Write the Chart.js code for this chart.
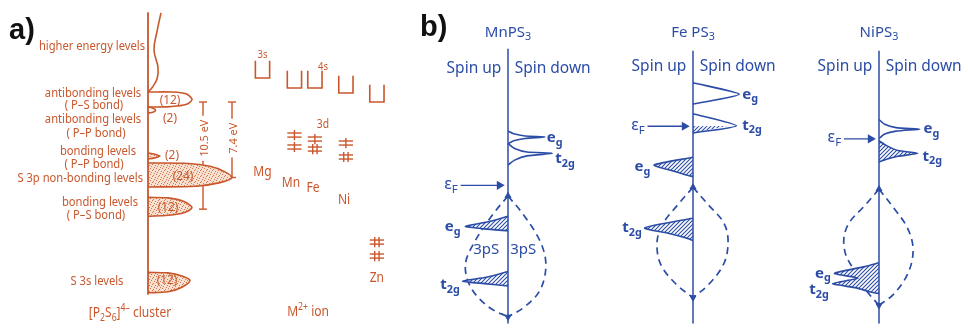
<!DOCTYPE html>
<html>
<head>
<meta charset="utf-8">
<title>[P2S6]4- cluster levels and MPS3 spin-resolved DOS</title>
<script src="https://cdn.jsdelivr.net/npm/chart.js@4.4.1/dist/chart.umd.min.js"></script>
<style>
  html, body { margin: 0; padding: 0; background: #fff; }
  #page { position: relative; width: 968px; height: 329px; overflow: hidden; }
  #page canvas { position: absolute; top: 0; }
</style>
</head>
<body>
<div id="page">
  <canvas id="panelA" width="410" height="329" style="left:0px"></canvas>
  <canvas id="panelMn" width="200" height="329" style="left:408px"></canvas>
  <canvas id="panelFe" width="200" height="329" style="left:593px"></canvas>
  <canvas id="panelNi" width="200" height="329" style="left:779px"></canvas>
</div>
<script>
const ORANGE = '#c9572c';
const BLUE = '#2c4da6';
const FONT = '"Noto Sans", "DejaVu Sans", sans-serif';

// ---- panel a: [P2S6]4- cluster, x = DOS (arb.), y = energy (eV) ----
const clusterAxis = [[0, 8.8], [0, -18.9]];
const higherLevels = [[6.5, 8.73], [4.6, 7.0], [3.0, 5.1], [5.0, 3.4], [4.6, 2.3], [2.2, 1.45], [0, 0.98]];
const antiPS = [[0, 0.98], [12, 0.98], [19, 0.8], [22, 0.25], [19, -0.25], [11, -0.45], [0, -0.49]];
const antiPP = [[0, -0.49], [2.5, -0.6], [3.8, -0.8], [2.5, -1.0], [0, -1.08]];
const bondPP = [[0, -5.0], [3, -5.1], [6, -5.3], [3, -5.5], [0, -5.59]];
const nonBond3p = [[0, -5.98], [20, -6.02], [31, -6.3], [38, -6.8], [42, -7.4], [36, -7.9], [24, -8.25], [0, -8.33]];
const bondPS = [[0, -9.35], [10, -9.4], [18, -9.75], [22, -10.35], [18, -10.85], [10, -11.1], [0, -11.2]];
const s3s = [[0, -16.7], [10, -16.75], [17, -17.05], [21, -17.5], [17, -18.15], [10, -18.6], [0, -18.7]];
const levelCounts = ['(12)', '(2)', '(2)', '(24)', '(12)', '(12)'];
const countPos = [[11, 0.2], [11, -1.57], [12, -5.2], [17.5, -7.3], [10, -10.3], [9.5, -17.45]];
const gapValues = [10.5, 7.4];
const gapX = [27.5, 42];

// M2+ ion levels, x = ion column, y = energy (eV)
const ions = ['Mg', 'Mn', 'Fe', 'Ni', 'Zn'];
const ionX = [0, 1.03, 1.69, 2.69, 3.69];
const sLevel = [2.35, 1.37, 1.37, 0.88, 0.0];
const dUpper = [null, -3.24, -3.63, -4.02, -13.73];
const dLower = [null, -4.41, -4.61, -5.39, -15.1];
const dUpperTicks = [0, 1, 1, 1, 2];
const dLowerTicks = [0, 1, 2, 2, 2];

// ---- panel b: x = DOS (spin up < 0 < spin down), y = energy (arb.) ----
const mnDownEg = [[0, 3.5], [0.6, 3.36], [1.8, 3.25], [3.9, 3.2], [1.8, 3.12], [0.6, 3.0], [0, 2.85]];
const mnDownT2g = [[0, 2.85], [0.7, 2.6], [2.0, 2.42], [4.7, 2.35], [2.0, 2.22], [0.7, 2.0], [0, 1.75]];
const mnUpEg = [[0, -0.9], [-2.2, -1.2], [-4.5, -1.42], [-2.5, -1.55], [0, -1.65]];
const mnUpT2g = [[0, -3.75], [-2.3, -4.05], [-4.8, -4.25], [-2.5, -4.38], [0, -4.5]];
const mnLensL = [[0, 0.15], [-1.6, -0.8], [-3.5, -2.2], [-4.5, -3.4], [-3.9, -4.6], [-2, -5.6], [0, -6.1]];
const mnLensR = [[0, 0.15], [1.6, -0.8], [3.4, -2.2], [4.0, -3.4], [3.4, -4.7], [1.7, -5.6], [0, -6.1]];
const mnFermi = 0.7;

const feDownEg = [[0, 6.0], [4.9, 5.4], [0, 4.9]];
const feDownT2g = [[0, 4.4], [4.6, 3.78], [0, 3.4]];
const feDownT2gOcc = [[0, 3.75], [3.6, 3.76], [0, 3.4]];
const feUpEg = [[0, 2.15], [-4.1, 1.75], [-2.2, 1.45], [-0.8, 1.25], [0, 1.15]];
const feUpT2g = [[0, -1.0], [-5.1, -1.5], [-2.4, -1.8], [-0.9, -2.0], [0, -2.15]];
const feLensL = [[0, 0.6], [-1.6, -0.3], [-3.2, -1.3], [-3.8, -2.25], [-3.4, -3.4], [-1.8, -4.4], [0, -5.1]];
const feLensR = [[0, 0.6], [1.6, -0.3], [3.2, -1.2], [3.7, -2.1], [3.3, -3.3], [1.7, -4.4], [0, -5.1]];
const feFermi = 3.75;

const niDownEg = [[0, 4.1], [0.6, 3.85], [1.8, 3.68], [4.3, 3.6], [1.8, 3.5], [0.6, 3.35], [0, 3.12]];
const niDownT2g = [[0, 3.0], [0.8, 2.75], [2.0, 2.5], [4.1, 2.35], [2.0, 2.2], [0.8, 2.05], [0, 1.9]];
const niUpEgT2g = [[0, -3.3], [-1.5, -3.5], [-4.7, -3.85], [-2.2, -4.1], [-4.9, -4.38], [-2.4, -4.6], [-1.0, -4.8], [0, -4.9]];
const niLensL = [[0, 0.5], [-1.6, -0.4], [-3.1, -1.2], [-3.7, -2.0], [-3.5, -2.9], [-2.6, -3.7], [-1.4, -4.7], [0, -5.5]];
const niLensR = [[0, 0.5], [1.6, -0.5], [3.0, -1.5], [3.6, -2.6], [3.1, -3.8], [1.6, -4.9], [0, -5.5]];
const niFermi = 3.1;

// ---------- helpers ----------
function seg(points, color, extra) {
  return Object.assign({
    data: points.map(p => ({ x: p[0], y: p[1] })),
    showLine: true, borderColor: color, borderWidth: 1.6,
    pointRadius: 0, tension: 0.3, fill: false
  }, extra || {});
}

function hatchPattern(color) {
  const c = document.createElement('canvas');
  c.width = c.height = 4;
  const g = c.getContext('2d');
  g.fillStyle = '#fff'; g.fillRect(0, 0, 4, 4);
  g.strokeStyle = color; g.lineWidth = 1.1;
  g.beginPath();
  g.moveTo(0, 4); g.lineTo(4, 0);
  g.moveTo(-1, 1); g.lineTo(1, -1);
  g.moveTo(3, 5); g.lineTo(5, 3);
  g.stroke();
  return g.createPattern(c, 'repeat');
}

// stipple: scattered dots on a pale ground
function dotPattern(color) {
  const c = document.createElement('canvas');
  c.width = c.height = 6;
  const g = c.getContext('2d');
  g.fillStyle = '#f8e0d0'; g.fillRect(0, 0, 6, 6);
  g.fillStyle = color;
  [[0, 0], [3, 1], [5, 3], [1, 4], [4, 5], [2, 2]].forEach(d => g.fillRect(d[0], d[1], 1, 1));
  return g.createPattern(c, 'repeat');
}

// text with _{sub} and ^{sup}
function drawRich(ctx, str, x, y, o) {
  const size = o.size || 13, weight = o.weight || 'normal', sx = o.sx || 1;
  const segs = [];
  str.split(/(_\{[^}]*\}|\^\{[^}]*\})/).forEach(p => {
    if (!p) return;
    if (p[0] === '_') segs.push({ t: p.slice(2, -1), s: size * 0.72, dy: size * 0.32 });
    else if (p[0] === '^') segs.push({ t: p.slice(2, -1), s: size * 0.72, dy: -size * 0.38 });
    else segs.push({ t: p, s: size, dy: 0 });
  });
  let w = 0;
  segs.forEach(g => { ctx.font = `${weight} ${g.s}px ${FONT}`; g.w = ctx.measureText(g.t).width; w += g.w; });
  ctx.save();
  ctx.translate(x, y);
  if (o.rot) ctx.rotate(o.rot);
  ctx.scale(sx, 1);
  let cx = o.align === 'right' ? -w : o.align === 'center' ? -w / 2 : 0;
  ctx.textBaseline = 'middle';
  ctx.textAlign = 'left';
  ctx.fillStyle = o.color;
  segs.forEach(g => { ctx.font = `${weight} ${g.s}px ${FONT}`; ctx.fillText(g.t, cx, g.dy); cx += g.w; });
  ctx.restore();
}

function textLayer(items) {
  return {
    id: 'textLayer',
    afterDraw(chart) {
      const ctx = chart.ctx;
      items.forEach(it => {
        let x, y;
        if (it.px) { x = it.px[0]; y = it.px[1]; }
        else {
          x = chart.scales[it.xAxis || 'x'].getPixelForValue(it.at[0]);
          y = chart.scales.y.getPixelForValue(it.at[1]);
        }
        if (it.font) {
          ctx.save(); ctx.font = it.font; ctx.fillStyle = it.color;
          ctx.textBaseline = 'alphabetic'; ctx.fillText(it.text, x, y); ctx.restore();
        } else drawRich(ctx, it.text, x, y, it);
      });
    }
  };
}

function baseOptions(scales) {
  return {
    responsive: false, animation: false, devicePixelRatio: 1, events: [],
    layout: { padding: 0 },
    plugins: { legend: { display: false }, tooltip: { enabled: false } },
    scales: scales
  };
}

const dots = dotPattern('#d27a50');
const hatch = hatchPattern(BLUE);

// ---------- panel a ----------
const aSets = [];
aSets.push(seg(clusterAxis, ORANGE, { tension: 0, borderWidth: 1.8 }));
aSets.push(seg(higherLevels, ORANGE, { tension: 0.4 }));
aSets.push(seg(antiPS, ORANGE));
aSets.push(seg(antiPP, ORANGE));
[bondPP, nonBond3p, bondPS, s3s].forEach(p =>
  aSets.push(seg(p, ORANGE, { fill: 'shape', backgroundColor: dots })));

const gapHalf = [2.2, 1.9];
gapValues.forEach((g, i) => {
  const x = gapX[i], mid = -3.55;
  aSets.push(seg([[x, 0], [x, mid + gapHalf[i]]], ORANGE, { tension: 0, borderWidth: 1.4 }));
  aSets.push(seg([[x, mid - gapHalf[i]], [x, -g]], ORANGE, { tension: 0, borderWidth: 1.4 }));
  aSets.push(seg([[x - 2, 0], [x + 2, 0]], ORANGE, { tension: 0, borderWidth: 1.4 }));
  aSets.push(seg([[x - 2, -g], [x + 2, -g]], ORANGE, { tension: 0, borderWidth: 1.4 }));
});

ions.forEach((name, i) => {
  const x = ionX[i], hw = 0.23;
  aSets.push(seg([[x - hw, sLevel[i] + 1.7], [x - hw, sLevel[i]], [x + hw, sLevel[i]], [x + hw, sLevel[i] + 1.7]],
    ORANGE, { xAxisID: 'xi', tension: 0 }));
  [[dUpper[i], dUpperTicks[i]], [dLower[i], dLowerTicks[i]]].forEach(([e, n]) => {
    if (e === null) return;
    [0.2, -0.2].forEach(d =>
      aSets.push(seg([[x - hw, e + d], [x + hw, e + d]], ORANGE, { xAxisID: 'xi', tension: 0, borderWidth: 1.4 })));
    (n === 1 ? [0] : [-0.07, 0.07]).forEach(o =>
      aSets.push(seg([[x + o, e + 0.5], [x + o, e - 0.5]], ORANGE, { xAxisID: 'xi', tension: 0, borderWidth: 1.4 })));
  });
});

const oLbl = (text, at, align, extra) => Object.assign({ text, at, align, color: ORANGE, size: 13, sx: 0.86 }, extra || {});
const aText = [
  { text: 'a)', px: [9, 39], font: 'bold 29px "Liberation Sans", Arial, sans-serif', color: '#111' },
  oLbl('higher energy levels', [-1.5, 5.49], 'right'),
  oLbl('antibonding levels', [-27.5, 0.88], 'center'),
  oLbl('( P–S bond)', [-27, -0.29], 'center'),
  oLbl('antibonding levels', [-27.5, -1.67], 'center'),
  oLbl('( P–P bond)', [-26, -3.04], 'center'),
  oLbl('bonding levels', [-25, -4.8], 'center'),
  oLbl('( P–P bond)', [-27, -6.08], 'center'),
  oLbl('S 3p non-bonding levels', [-2.5, -7.45], 'right'),
  oLbl('bonding levels', [-24, -9.8], 'center'),
  oLbl('( P–S bond)', [-26, -11.08], 'center'),
  oLbl('S 3s levels', [-25.5, -17.55], 'center'),
  oLbl('[P_{2}S_{6}]^{4–} cluster', [-9, -20.7], 'center', { size: 14 }),
  oLbl('10.5 eV', [gapX[0] + 0.8, -3.55], 'center', { rot: -Math.PI / 2, size: 11.5, sx: 0.95 }),
  oLbl('7.4 eV', [gapX[1] + 0.8, -3.55], 'center', { rot: -Math.PI / 2, size: 11.5, sx: 0.95 }),
  oLbl('Mg', [0, -6.86], 'center', { xAxis: 'xi', size: 14 }),
  oLbl('Mn', [0.92, -7.94], 'center', { xAxis: 'xi', size: 14 }),
  oLbl('Fe', [1.63, -8.43], 'center', { xAxis: 'xi', size: 14 }),
  oLbl('Ni', [2.63, -9.61], 'center', { xAxis: 'xi', size: 14 }),
  oLbl('Zn', [3.69, -17.25], 'center', { xAxis: 'xi', size: 14 }),
  oLbl('3s', [0, 4.6], 'center', { xAxis: 'xi', size: 11 }),
  oLbl('4s', [1.95, 3.43], 'center', { xAxis: 'xi', size: 11 }),
  oLbl('3d', [1.95, -2.25], 'center', { xAxis: 'xi', size: 12 }),
  oLbl('M^{2+} ion', [1.47, -20.6], 'center', { xAxis: 'xi', size: 14 })
];
levelCounts.forEach((t, i) => aText.push(oLbl(t, countPos[i], 'center', { size: 12.5, sx: 0.95 })));

new Chart(document.getElementById('panelA'), {
  type: 'scatter',
  data: { datasets: aSets },
  options: baseOptions({
    x: { type: 'linear', display: false, min: -74, max: 131 },
    xi: { type: 'linear', display: false, min: -8.468, max: 4.758 },
    y: { type: 'linear', display: false, min: -22.25, max: 10 }
  }),
  plugins: [textLayer(aText)]
});

// ---------- panel b ----------
function spinPanel(canvasId, cfg) {
  const sets = [];
  sets.push(seg([[0, cfg.axisTop], [0, -6.45]], BLUE, { tension: 0, borderWidth: 1.5 }));
  cfg.open.forEach(p => sets.push(seg(p, BLUE, { tension: 0.2 })));
  cfg.filled.forEach(p => sets.push(seg(p, BLUE, { tension: 0.2, fill: 'shape', backgroundColor: hatch })));
  (cfg.hatchOnly || []).forEach(p => sets.push(seg(p, BLUE, { tension: 0, borderWidth: 0, fill: 'shape', backgroundColor: hatch })));
  sets.push(seg([[cfg.fermiFrom, cfg.fermi], [-0.9, cfg.fermi]], BLUE, {
    tension: 0, borderWidth: 1.3, pointRadius: [0, 4], pointStyle: 'triangle', pointRotation: 90,
    pointBackgroundColor: BLUE, pointBorderColor: BLUE
  }));
  [cfg.lensL, cfg.lensR].forEach(p =>
    sets.push(seg(p, BLUE, { tension: 0.35, borderDash: [7, 5], borderWidth: 1.7, order: 5 })));
  const top = cfg.lensL[0][1], bottom = cfg.lensL[cfg.lensL.length - 1][1];
  sets.push({
    data: [{ x: 0, y: top }, { x: 0, y: bottom }], showLine: false, pointRadius: 3.5,
    pointStyle: 'triangle', pointRotation: [0, 180], pointBackgroundColor: BLUE, pointBorderColor: BLUE
  });

  const b = (text, at, align, extra) => Object.assign({ text, at, align, color: BLUE, size: 15 }, extra || {});
  const items = [
    b(cfg.title, [0, 8.6], 'center'),
    b('Spin up', [-0.7, cfg.spinY], 'right', { size: 15.5 }),
    b('Spin down', [0.7, cfg.spinY], 'left', { size: 15.5 }),
    b('ε_{F}', [cfg.fermiFrom - 0.3, cfg.fermi + 0.05], 'right', { size: 16 })
  ];
  cfg.labels.forEach(l => items.push(b(l[0], l[1], l[2], { weight: l[3] || 'bold' })));
  if (cfg.tag) items.push({ text: cfg.tag, px: [12, 36], font: 'bold 29px "Liberation Sans", Arial, sans-serif', color: '#111' });

  new Chart(document.getElementById(canvasId), {
    type: 'scatter',
    data: { datasets: sets },
    options: baseOptions({
      x: { type: 'linear', display: false, min: -10, max: 10 },
      y: { type: 'linear', display: false, min: -6.45, max: 10 }
    }),
    plugins: [textLayer(items)]
  });
}

spinPanel('panelMn', {
  tag: 'b)', title: 'MnPS_{3}', axisTop: 7.75, spinY: 6.75,
  open: [mnDownEg, mnDownT2g], filled: [mnUpEg, mnUpT2g],
  fermi: mnFermi, fermiFrom: -5.0, lensL: mnLensL, lensR: mnLensR,
  labels: [
    ['e_{g}', [4.1, 3.15], 'left'], ['t_{2g}', [5.0, 2.05], 'left'],
    ['e_{g}', [-5.0, -1.45], 'right'], ['t_{2g}', [-5.1, -4.45], 'right'],
    ['3pS', [-2.3, -2.65], 'center', 'normal'], ['3pS', [1.6, -2.65], 'center', 'normal']
  ]
});

spinPanel('panelFe', {
  title: 'Fe PS_{3}', axisTop: 7.65, spinY: 6.85,
  open: [feDownEg, feDownT2g], filled: [feUpEg, feUpT2g], hatchOnly: [feDownT2gOcc],
  fermi: feFermi, fermiFrom: -4.8, lensL: feLensL, lensR: feLensR,
  labels: [
    ['e_{g}', [5.2, 5.4], 'left'], ['t_{2g}', [5.2, 3.8], 'left'],
    ['e_{g}', [-4.5, 1.65], 'right'], ['t_{2g}', [-5.4, -1.5], 'right']
  ]
});

spinPanel('panelNi', {
  title: 'NiPS_{3}', axisTop: 7.65, spinY: 6.85,
  open: [niDownEg], filled: [niDownT2g, niUpEgT2g],
  fermi: niFermi, fermiFrom: -3.7, lensL: niLensL, lensR: niLensR,
  labels: [
    ['e_{g}', [4.7, 3.6], 'left'], ['t_{2g}', [4.6, 2.2], 'left'],
    ['e_{g}', [-5.1, -3.85], 'right'], ['t_{2g}', [-5.3, -4.7], 'right']
  ]
});
</script>
</body>
</html>
